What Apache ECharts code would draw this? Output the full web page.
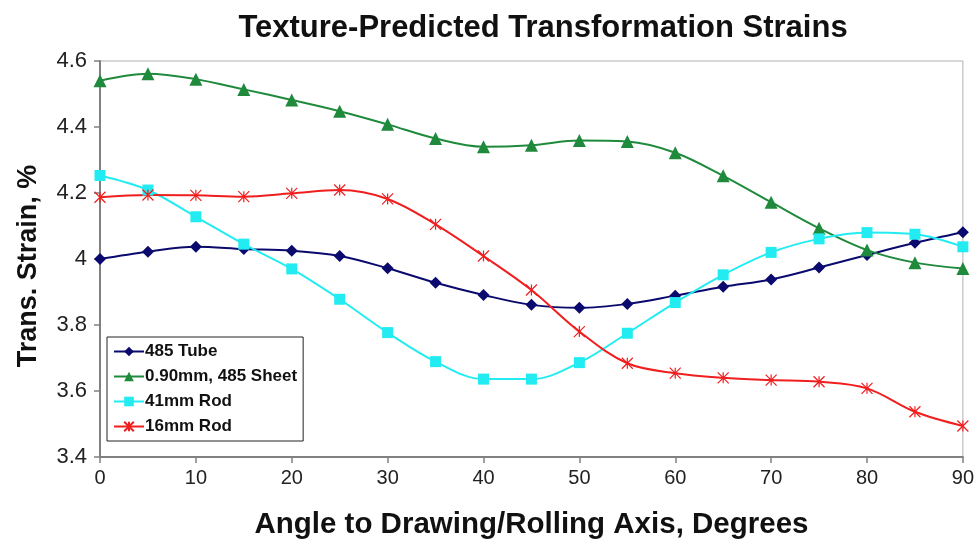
<!DOCTYPE html>
<html>
<head>
<meta charset="utf-8">
<script src="https://cdn.jsdelivr.net/npm/echarts@6/dist/echarts.min.js"></script>
<style>
  html, body { margin: 0; padding: 0; background: #fff; }
  #chart { width: 977px; height: 546px; }
</style>
</head>
<body>
<div id="chart"></div>
<script>
// Angle to drawing/rolling axis, degrees
const angles = [0, 5, 10, 15, 20, 25, 30, 35, 40, 45, 50, 55, 60, 65, 70, 75, 80, 85, 90];

// Predicted transformation strain, %
const tube485 = [4.000, 4.022, 4.037, 4.030, 4.025, 4.009, 3.972, 3.928, 3.891, 3.861, 3.852, 3.864, 3.889, 3.916, 3.938, 3.974, 4.012, 4.049, 4.081];
const sheet090 = [4.540, 4.561, 4.545, 4.514, 4.482, 4.448, 4.408, 4.365, 4.340, 4.345, 4.359, 4.356, 4.322, 4.252, 4.172, 4.093, 4.027, 3.989, 3.971];
const rod41 = [4.253, 4.209, 4.128, 4.045, 3.970, 3.878, 3.777, 3.689, 3.636, 3.636, 3.686, 3.775, 3.868, 3.952, 4.020, 4.061, 4.080, 4.075, 4.037];
const rod16 = [4.187, 4.194, 4.193, 4.189, 4.199, 4.209, 4.182, 4.105, 4.009, 3.906, 3.780, 3.684, 3.654, 3.640, 3.633, 3.628, 3.608, 3.537, 3.494];

const seriesNames = ['485 Tube', '0.90mm, 485 Sheet', '41mm Rod', '16mm Rod'];

const pair = arr => angles.map((a, i) => [a, arr[i]]);

const chart = echarts.init(document.getElementById('chart'), null, { renderer: 'canvas' });

const font = "'Liberation Sans', Arial, sans-serif";
const narrow = "'Liberation Sans Narrow', 'Arial Narrow', 'Liberation Sans', Arial, sans-serif";

// asterisk marker: an X crossed by a vertical stroke
const asterisk = 'path://M0,0L10,10M10,0L0,10M5,0L5,10';

function lineSeries(name, data, color, symbol, size, extra) {
  return Object.assign({
    name: name,
    type: 'line',
    data: pair(data),
    smooth: 0.35,
    symbol: symbol,
    symbolSize: size,
    showAllSymbol: true,
    lineStyle: { color: color, width: 2 },
    itemStyle: { color: color },
    emphasis: { disabled: true },
    animation: false
  }, extra || {});
}

chart.setOption({
  backgroundColor: '#ffffff',
  animation: false,
  title: {
    text: 'Texture-Predicted Transformation Strains',
    left: 538,
    top: 8,
    textAlign: 'center',
    textStyle: { fontFamily: font, fontWeight: 'bold', fontSize: 31, color: '#111' }
  },
  grid: {
    left: 100, right: 12, top: 61, bottom: 89,
    show: true, borderColor: '#b0b0b0', borderWidth: 1
  },
  legend: {
    orient: 'vertical',
    left: 107, top: 337,
    padding: [6, 6, 6, 6],
    itemGap: 8,
    itemWidth: 30, itemHeight: 12,
    borderColor: '#222', borderWidth: 1,
    backgroundColor: '#fff',
    data: seriesNames,
    textStyle: { fontFamily: font, fontWeight: 'bold', fontSize: 17, lineHeight: 17, color: '#111', padding: [0, 0, 0, -4] }
  },
  xAxis: {
    type: 'value',
    min: 0, max: 90, interval: 10,
    name: 'Angle to Drawing/Rolling Axis, Degrees',
    nameLocation: 'middle',
    nameGap: 53,
    nameTextStyle: { fontFamily: font, fontWeight: 'bold', fontSize: 29.5, color: '#111' },
    axisLine: { lineStyle: { color: '#808080', width: 2 } },
    axisTick: { show: true, length: 6, lineStyle: { color: '#808080', width: 1.5 } },
    axisLabel: { fontFamily: narrow, fontSize: 20, color: '#222', margin: 11 },
    splitLine: { show: false }
  },
  yAxis: {
    type: 'value',
    min: 3.4, max: 4.6, interval: 0.2,
    name: 'Trans. Strain, %',
    nameLocation: 'middle',
    nameGap: 58,
    nameRotate: 90,
    nameTextStyle: { fontFamily: font, fontWeight: 'bold', fontSize: 27, color: '#111', padding: [0, 14, 0, 0] },
    axisLine: { show: true, lineStyle: { color: '#808080', width: 2 } },
    axisTick: { show: true, length: 6, lineStyle: { color: '#808080', width: 1.5 } },
    axisLabel: { fontFamily: font, fontSize: 22, color: '#222', margin: 13 },
    splitLine: { show: false }
  },
  series: [
    lineSeries(seriesNames[0], tube485, '#0a0a6e', 'diamond', 12),
    lineSeries(seriesNames[1], sheet090, '#1f8a3c', 'triangle', 13),
    lineSeries(seriesNames[2], rod41, '#22ecf2', 'rect', 11),
    lineSeries(seriesNames[3], rod16, '#f01e1e', asterisk, 11, {
      itemStyle: { color: 'none', borderColor: '#f01e1e', borderWidth: 1.2 }
    })
  ]
});
</script>
</body>
</html>
